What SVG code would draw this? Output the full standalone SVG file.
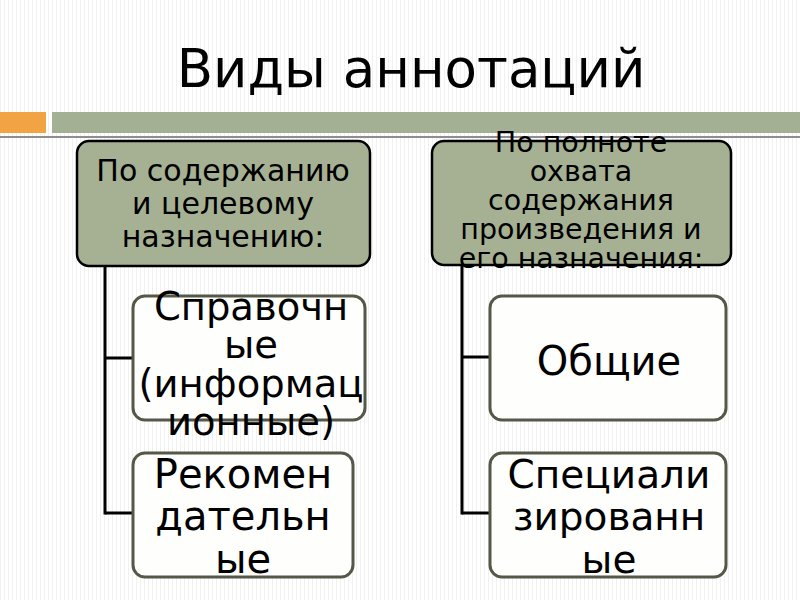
<svg xmlns="http://www.w3.org/2000/svg" width="800" height="600" viewBox="0 0 800 600">
<defs>
<pattern id="stripes" x="0" y="0" width="4" height="10" patternUnits="userSpaceOnUse">
<rect width="4" height="10" fill="#ffffff"/>
<rect width="1" height="10" fill="#f1f1f1"/>
</pattern>
</defs>
<style>
text{font-family:"DejaVu Sans","Verdana",sans-serif;fill:#000;text-anchor:middle}
.head rect{fill:#a6b193;stroke:#000;stroke-width:2.5}
.leaf rect{fill:#fefefc;stroke:#555848;stroke-width:3}
.conn line{stroke:#000;stroke-width:3}
.h{font-size:30px}
.h2{font-size:28.5px}
</style>
<rect width="800" height="600" fill="url(#stripes)"/>
<g id="title">
<text x="411" y="87" font-size="53">Виды аннотаций</text>
</g>
<g id="banner">
<rect x="0" y="112" width="46" height="21" fill="#f2a344"/>
<rect x="52" y="112" width="748" height="21" fill="#a4b093"/>
<rect x="0" y="136" width="800" height="2" fill="#8e8e8e"/>
</g>
<g class="conn" id="connectors">
<line x1="105" y1="266" x2="105" y2="514.5"/>
<line x1="105" y1="358" x2="133" y2="358"/>
<line x1="105" y1="513" x2="133" y2="513"/>
<line x1="462" y1="265" x2="462" y2="514.5"/>
<line x1="462" y1="357" x2="490" y2="357"/>
<line x1="462" y1="513" x2="490" y2="513"/>
</g>
<g class="head" id="node-content">
<rect x="77" y="141" width="293" height="125" rx="12"/>
<text class="h" x="223" y="181">По содержанию</text>
<text class="h" x="223" y="214">и целевому</text>
<text class="h" x="223" y="247">назначению:</text>
</g>
<g class="head" id="node-coverage">
<rect x="432" y="141" width="299" height="124" rx="12"/>
<text class="h2" x="581" y="152">По полноте</text>
<text class="h2" x="581" y="181">охвата</text>
<text class="h2" x="581" y="210">содержания</text>
<text class="h2" x="581" y="239">произведения и</text>
<text class="h2" x="581" y="268">его назначения:</text>
</g>
<g class="leaf" id="node-reference">
<rect x="133" y="296" width="232" height="124" rx="12"/>
<text x="251" y="320" font-size="38.5">Справочн</text>
<text x="251" y="358" font-size="38.5">ые</text>
<text x="251" y="397" font-size="38.5">(информац</text>
<text x="251" y="435" font-size="38.5">ионные)</text>
</g>
<g class="leaf" id="node-recommend">
<rect x="133" y="453" width="220" height="124" rx="12"/>
<text x="243" y="488" font-size="40">Рекомен</text>
<text x="243" y="530" font-size="40">дательн</text>
<text x="243" y="573" font-size="40">ые</text>
</g>
<g class="leaf" id="node-general">
<rect x="490" y="296" width="236" height="124" rx="12"/>
<text x="609" y="375" font-size="40">Общие</text>
</g>
<g class="leaf" id="node-special">
<rect x="490" y="453" width="236" height="124" rx="12"/>
<text x="609" y="488" font-size="39">Специали</text>
<text x="609" y="530" font-size="39">зированн</text>
<text x="609" y="573" font-size="39">ые</text>
</g>
</svg>
